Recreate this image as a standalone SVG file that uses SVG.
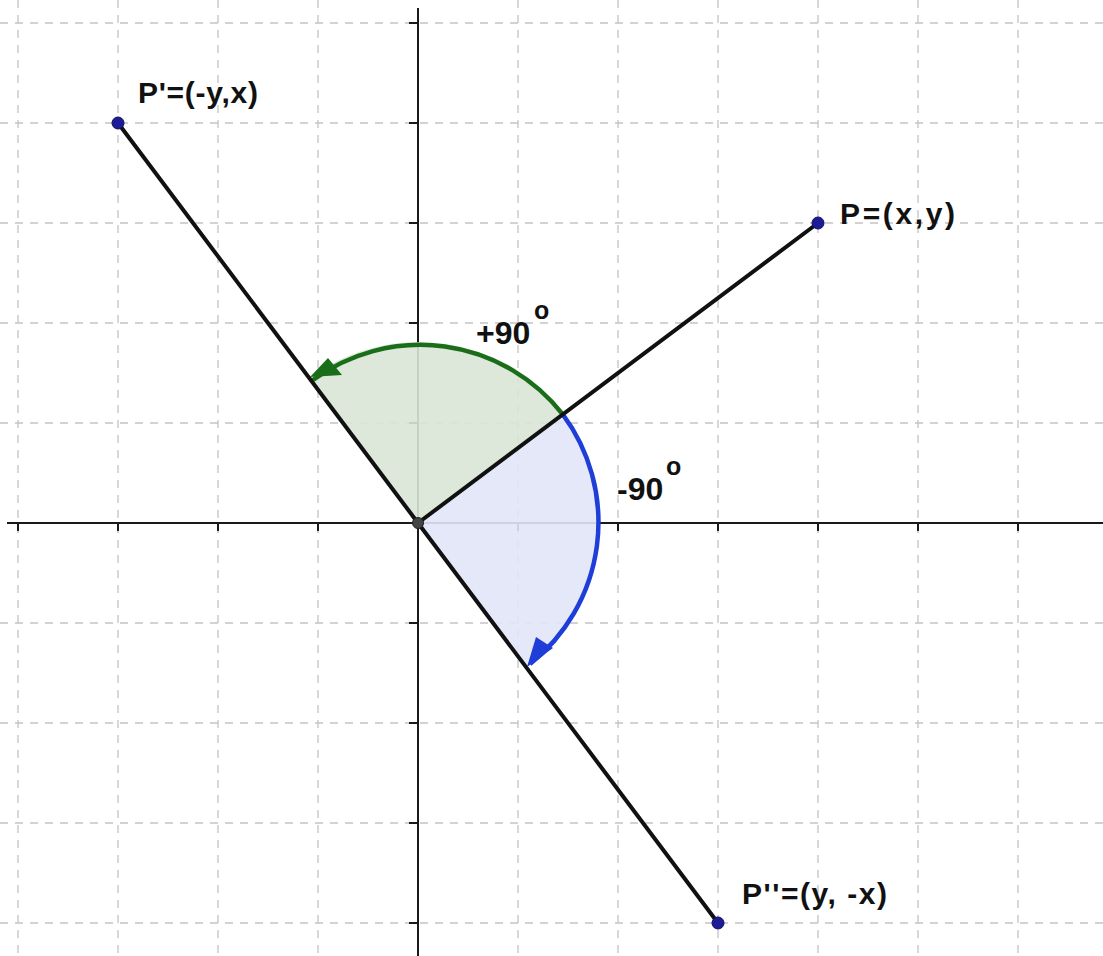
<svg xmlns="http://www.w3.org/2000/svg" width="1103" height="956" viewBox="0 0 1103 956">
<style>
.grid line{stroke:#c4c4c4;stroke-width:1.3;stroke-dasharray:8 7}
.axis{stroke:#1a1a1a;stroke-width:2}
.seg{stroke:#111;stroke-width:4;stroke-linecap:round}
.pt{fill:#1c1c96;stroke:#0e0e60;stroke-width:1}
.lbl{font-family:"Liberation Sans",Arial,sans-serif;font-size:30px;font-weight:bold;fill:#111}
.deg{font-family:"Liberation Sans",Arial,sans-serif;font-size:32px;font-weight:bold;fill:#111}
.sup{font-family:"Liberation Sans",Arial,sans-serif;font-size:25px;font-weight:bold;fill:#111}
</style>
<rect width="1103" height="956" fill="#fff"/>
<g class="grid">
<line x1="18" y1="0" x2="18" y2="956"/>
<line x1="118" y1="0" x2="118" y2="956"/>
<line x1="218" y1="0" x2="218" y2="956"/>
<line x1="318" y1="0" x2="318" y2="956"/>
<line x1="518" y1="0" x2="518" y2="956"/>
<line x1="618" y1="0" x2="618" y2="956"/>
<line x1="718" y1="0" x2="718" y2="956"/>
<line x1="818" y1="0" x2="818" y2="956"/>
<line x1="918" y1="0" x2="918" y2="956"/>
<line x1="1018" y1="0" x2="1018" y2="956"/>
<line x1="0" y1="23" x2="1103" y2="23"/>
<line x1="0" y1="123" x2="1103" y2="123"/>
<line x1="0" y1="223" x2="1103" y2="223"/>
<line x1="0" y1="323" x2="1103" y2="323"/>
<line x1="0" y1="423" x2="1103" y2="423"/>
<line x1="0" y1="623" x2="1103" y2="623"/>
<line x1="0" y1="723" x2="1103" y2="723"/>
<line x1="0" y1="823" x2="1103" y2="823"/>
<line x1="0" y1="923" x2="1103" y2="923"/>
</g>
<g id="axes">
<line class="axis" x1="7" y1="523" x2="1103" y2="523"/>
<line class="axis" x1="418" y1="8" x2="418" y2="956"/>
<path class="axis" d="M18,523v8M118,523v8M218,523v8M318,523v8M518,523v8M618,523v8M718,523v8M818,523v8M918,523v8M1018,523v8M418,23h-9M418,123h-9M418,223h-9M418,323h-9M418,423h-9M418,623h-9M418,723h-9M418,823h-9M418,923h-9"/>
</g>
<g id="sector-plus">
<path d="M418,523 L562.8,414.4 A181,181 0 0 0 309.4,378.2 Z" fill="#d9e5d6" fill-opacity="0.9"/>
<path d="M562.8,414.4 A181,181 0 0 0 313,380" fill="none" stroke="#1a6e1a" stroke-width="4.5"/>
<polygon points="310,377 328,358 342,375" fill="#1a6e1a"/>
</g>
<g id="sector-minus">
<path d="M418,523 L562.8,414.4 A181,181 0 0 1 526.6,667.8 Z" fill="#e1e5f8" fill-opacity="0.9"/>
<path d="M562.8,414.4 A181,181 0 0 1 530,664" fill="none" stroke="#1f3ed8" stroke-width="4.5"/>
<polygon points="527,667 536,637 553,648" fill="#1f3ed8"/>
</g>
<g id="connectors">
<line class="seg" x1="418" y1="523" x2="818" y2="223"/>
<line class="seg" x1="418" y1="523" x2="118" y2="123"/>
<line class="seg" x1="418" y1="523" x2="718" y2="923"/>
</g>
<g id="origin"><circle cx="418" cy="523" r="5.5" fill="#444" stroke="#222" stroke-width="1"/></g>
<g id="P">
<circle class="pt" cx="818" cy="223" r="6"/>
<text class="lbl" x="840" y="224" textLength="115" lengthAdjust="spacing">P=(x,y)</text>
</g>
<g id="P1">
<circle class="pt" cx="118" cy="123" r="6"/>
<text class="lbl" x="138" y="103" textLength="120" lengthAdjust="spacing">P'=(-y,x)</text>
</g>
<g id="P2">
<circle class="pt" cx="718" cy="923" r="6"/>
<text class="lbl" x="742" y="904" textLength="145" lengthAdjust="spacing">P''=(y, -x)</text>
</g>
<g id="label-plus">
<text class="deg" x="476" y="344">+90</text>
<text class="sup" x="534" y="319">o</text>
</g>
<g id="label-minus">
<text class="deg" x="617" y="500">-90</text>
<text class="sup" x="666" y="475">o</text>
</g>
</svg>
